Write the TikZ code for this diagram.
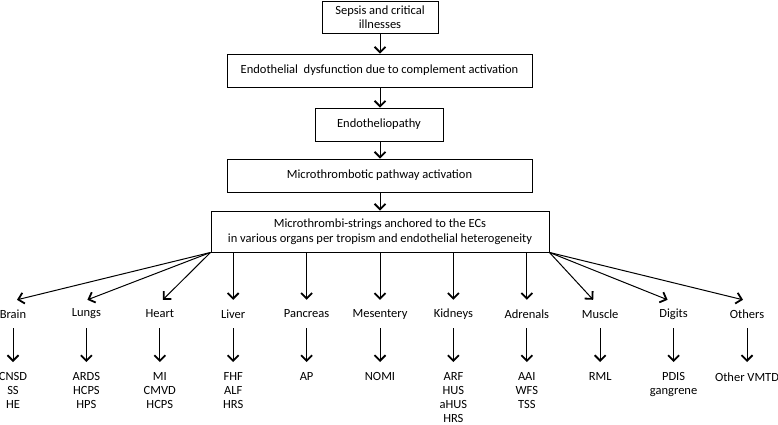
\documentclass[tikz,border=0pt]{standalone}
\usepackage{fontspec}
\setmainfont{Carlito}
\usetikzlibrary{arrows.meta}
\begin{document}
\begin{tikzpicture}[x=1pt,y=-1pt,
  box/.style={draw,line width=0.9pt,inner sep=0pt,align=center,font=\fontsize{12.5}{14.5}\selectfont},
  organ/.style={inner sep=0pt,minimum height=28pt,font=\fontsize{12.5}{14.5}\selectfont},
  result/.style={inner sep=0pt,anchor=north,align=center,font=\fontsize{12.5}{14}\selectfont},
  arr/.style={line width=1pt,-{Straight Barb[length=5.5pt,width=11pt,line width=1.8pt]}}]
\useasboundingbox (0,0) rectangle (778,425);
\node[box,minimum width=116pt,minimum height=32pt] (b1) at (380,17) {Sepsis and critical\\illnesses};
\node[box,minimum width=305pt,minimum height=33pt] (b2) at (379.5,70.5) {Endothelial\ \ dysfunction due to complement activation};
\node[box,minimum width=128pt,minimum height=33pt] (b3) at (379,124.5) {Endotheliopathy};
\node[box,minimum width=305pt,minimum height=33pt] (b4) at (379.5,175.5) {Microthrombotic pathway activation};
\node[box,minimum width=338pt,minimum height=41pt] (b5) at (380,231.5) {Microthrombi-strings anchored to the ECs\\in various organs per tropism and endothelial heterogeneity};
\draw[arr] (b1.south -| 380,0) -- (b2.north -| 380,0);
\draw[arr] (b2.south -| 380,0) -- (b3.north -| 380,0);
\draw[arr] (b3.south -| 380,0) -- (b4.north -| 380,0);
\draw[arr] (b4.south -| 380,0) -- (b5.north -| 380,0);
\foreach \i/\o/\r in {0/Brain/{CNSD\\SS\\HE},1/Lungs/{ARDS\\HCPS\\HPS},2/Heart/{MI\\CMVD\\HCPS},3/Liver/{FHF\\ALF\\HRS},4/Pancreas/{AP},5/Mesentery/{NOMI},6/Kidneys/{ARF\\HUS\\aHUS\\HRS},7/Adrenals/{AAI\\WFS\\TSS},8/Muscle/{RML},9/Digits/{PDIS\\gangrene},10/Others/{Other VMTD}}{
  \node[organ] (o\i) at (13+73.4*\i,314) {\o};
  \node[result] (r\i) at (13+73.4*\i,372.5) {\r};
  \draw[arr] (o\i.south) -- ([yshift=10.5pt]r\i.north);
}
\draw[arr] (b5.south west) -- ([xshift=4pt]o0.north);
\draw[arr] (b5.south west) -- ([xshift=1pt]o1.north);
\draw[arr] (b5.south west) -- ([xshift=3pt]o2.north);
\foreach \i in {3,...,7}{\draw[arr] (b5.south -| o\i.north) -- (o\i.north);}
\draw[arr] (b5.south east) -- ([xshift=-7pt]o8.north);
\draw[arr] (b5.south east) -- ([xshift=-6pt]o9.north);
\draw[arr] (b5.south east) -- ([xshift=-4pt]o10.north);
\end{tikzpicture}
\end{document}
